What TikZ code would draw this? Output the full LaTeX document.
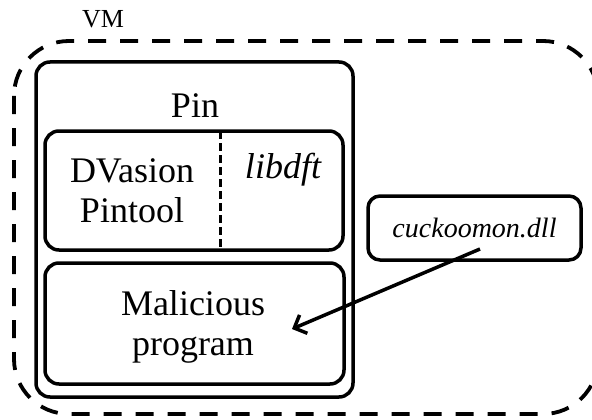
\documentclass[tikz,border=0pt]{standalone}
\usepackage{fontspec}
\setmainfont{Liberation Serif}
\usetikzlibrary{arrows.meta}
\begin{document}
\begin{tikzpicture}[x=1pt,y=-1pt,
  box/.style={draw,line width=3.5pt,rounded corners=14pt},
  big/.style={font=\fontsize{36}{40}\selectfont,align=center},
  vmline/.style={line width=3.8pt,dash pattern=on 18pt off 14pt,rounded corners=55pt}]
\useasboundingbox (0,0) rectangle (592,420);
\clip (0,0) rectangle (592,420);
\draw[vmline] (14,41) rectangle (598,414);
\node[font=\fontsize{26}{28}\selectfont] (vm) at (103,19) {VM};
\draw[box] (36,62) rectangle (353,397);
\node[big] (pin) at (195,106) {Pin};
\node[box,minimum width=298pt,minimum height=119pt,inner sep=0pt] (dv) at (194,190.5) {};
\coordinate (dtop) at (220,131);
\coordinate (dbot) at (220,250);
\draw[line width=3pt,dash pattern=on 8pt off 4pt] (dtop) -- (dbot);
\node[big] (dvt) at (132,191) {DVasion\\Pintool};
\node[big,font=\fontsize{36}{40}\selectfont\itshape] (lib) at (283,170) {libdft};
\node[box,minimum width=299pt,minimum height=121pt,inner sep=0pt] (mal) at (194.5,323.5) {};
\node[big] (malt) at (193,327) {Malicious\\program};
\node[box,rounded corners=12pt,minimum width=213pt,minimum height=64pt,inner sep=0pt,font=\fontsize{28}{30}\selectfont\itshape] (ck) at (474.5,228) {cuckoomon.dll};
\coordinate (astart) at (480,249);
\coordinate (aend) at (292,329);
\draw[line width=3.5pt,-{Straight Barb[length=10pt,width=20pt]}] (astart) -- (aend);
\end{tikzpicture}
\end{document}
